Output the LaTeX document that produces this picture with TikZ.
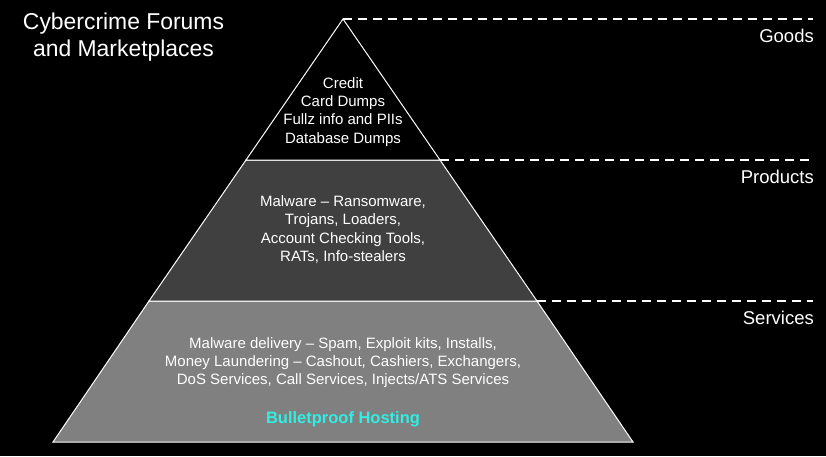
\documentclass[tikz,border=0pt]{standalone}
\usepackage{fontspec}
\setmainfont{Liberation Sans}
\definecolor{midgray}{HTML}{404040}
\definecolor{lowgray}{HTML}{808080}
\definecolor{bphcyan}{HTML}{30EEE2}
\begin{document}
\begin{tikzpicture}[x=1pt,y=-1pt,
  layer/.style={draw=white,line width=1pt},
  sep/.style={draw=white,dash pattern=on 9pt off 6pt,line width=1.4pt},
  tier/.style={text=white,inner sep=0pt,font=\fontsize{18.5}{22}\selectfont,anchor=base east},
  body/.style={text=white,align=center,font=\fontsize{15}{18.3}\selectfont}]
\fill[black] (0,0) rectangle (826,456);
\useasboundingbox (0,0) rectangle (826,456);
% pyramid corners
\coordinate (apex) at (343,19);
\coordinate (tl) at (246,160);
\coordinate (tr) at (440,160);
\coordinate (ml) at (149,301);
\coordinate (mr) at (537,301);
\coordinate (bl) at (53,442);
\coordinate (br) at (633,442);
\coordinate (e1) at (813,19);
\coordinate (e2) at (813,160);
\coordinate (e3) at (813,301);
% layers
\path[layer,fill=lowgray] (ml) -- (mr) -- (br) -- (bl) -- cycle;
\path[layer,fill=midgray] (tl) -- (tr) -- (mr) -- (ml) -- cycle;
\path[layer,fill=black] (apex) -- (tr) -- (tl) -- cycle;
% dashed separators
\draw[sep] (apex) -- (e1);
\draw[sep] (tr) -- (e2);
\draw[sep] (mr) -- (e3);
% tier labels
\node[tier] (goods) at (814,42.7) {Goods};
\node[tier] (products) at (814,183.3) {Products};
\node[tier] (services) at (814,324) {Services};
% title
\node[text=white,align=center,font=\fontsize{22.9}{26.7}\selectfont] (title) at (123.5,37.4)
  {Cybercrime Forums\\and Marketplaces};
% contents
\node[body] (goodsbody) at (343,111.9) {Credit\\Card Dumps\\Fullz info and PIIs\\Database Dumps};
\node[body] (prodbody) at (343,229.5) {Malware – Ransomware,\\Trojans, Loaders,\\Account Checking Tools,\\RATs, Info-stealers};
\node[body] (servbody) at (343,362.6) {Malware delivery – Spam, Exploit kits, Installs,\\Money Laundering – Cashout, Cashiers, Exchangers,\\DoS Services, Call Services, Injects/ATS Services};
\node[text=bphcyan,inner sep=0pt,anchor=base,font=\bfseries\fontsize{16.5}{20}\selectfont] (bph) at (343,423) {Bulletproof Hosting};
\end{tikzpicture}
\end{document}
